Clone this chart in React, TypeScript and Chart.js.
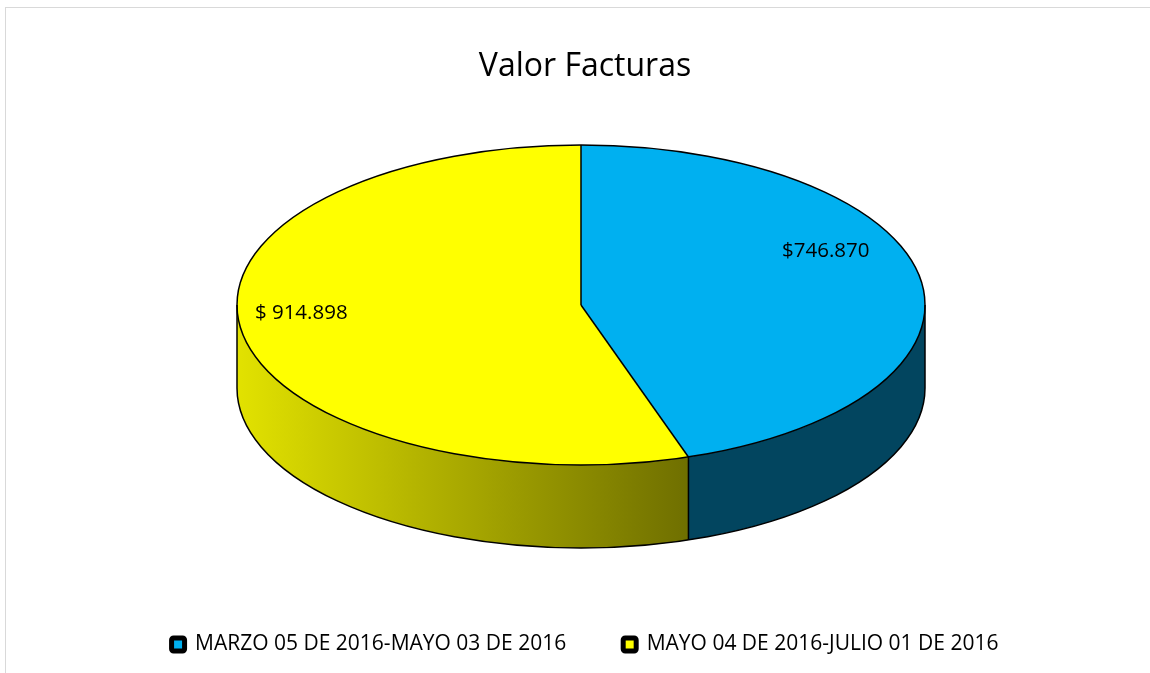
import { useEffect, useRef } from "react";
import { Chart, registerables } from "chart.js";

Chart.register(...registerables);

const chartTitle = "Valor Facturas";
const categories = ["MARZO 05 DE 2016-MAYO 03 DE 2016", "MAYO 04 DE 2016-JULIO 01 DE 2016"];
const values = [746870, 914898];
const valueLabels = ["$746.870", "$ 914.898"];
const topColors = ["#00B0F0", "#FFFF00"];
const sideColors = [
  ["#02455F", "#02455F"],
  ["#E2E200", "#6A6A00"],
];

const FONT = "'Open Sans', 'Noto Sans', sans-serif";

const pie3d = {
  id: "pie3d",
  beforeDatasetsDraw(chart: any, _args: any, opts: any) {
    const { cx, cy, rx, ry, depth } = opts;
    const ctx: CanvasRenderingContext2D = chart.ctx;
    const arcs: any[] = chart.getDatasetMeta(0).data;
    if (!arcs.length) return;
    arcs.forEach((arc, i) => {
      const a0 = Math.max(arc.startAngle, 0);
      const a1 = Math.min(arc.endAngle, Math.PI);
      if (a1 <= a0) return;
      ctx.save();
      ctx.beginPath();
      ctx.ellipse(cx, cy, rx, ry, 0, a0, a1, false);
      ctx.ellipse(cx, cy + depth, rx, ry, 0, a1, a0, true);
      ctx.closePath();
      const g = ctx.createLinearGradient(cx - rx, 0, cx + rx * 0.37, 0);
      g.addColorStop(0, sideColors[i][0]);
      g.addColorStop(1, sideColors[i][1]);
      ctx.fillStyle = g;
      ctx.fill();
      ctx.restore();
    });
    const a = arcs[0];
    ctx.save();
    ctx.translate(cx, cy);
    ctx.scale(rx / a.outerRadius, ry / a.outerRadius);
    ctx.translate(-a.x, -a.y);
  },
  afterDatasetsDraw(chart: any, _args: any, opts: any) {
    const ctx: CanvasRenderingContext2D = chart.ctx;
    ctx.restore();
    const { cx, cy, rx, ry, depth, labelOffsets } = opts;
    const arcs: any[] = chart.getDatasetMeta(0).data;
    if (!arcs.length) return;
    ctx.save();
    ctx.strokeStyle = "#000";
    ctx.lineWidth = 1.5;
    ctx.lineJoin = "round";
    // side outlines
    ctx.beginPath();
    ctx.ellipse(cx, cy + depth, rx, ry, 0, 0, Math.PI, false);
    ctx.stroke();
    const verticals = [0, Math.PI];
    arcs.forEach((arc) => {
      if (arc.startAngle > 0 && arc.startAngle < Math.PI) verticals.push(arc.startAngle);
    });
    verticals.forEach((t) => {
      const x = cx + rx * Math.cos(t);
      const y = cy + ry * Math.sin(t);
      ctx.beginPath();
      ctx.moveTo(x, y);
      ctx.lineTo(x, y + depth);
      ctx.stroke();
    });
    // top outline
    ctx.beginPath();
    ctx.ellipse(cx, cy, rx, ry, 0, 0, Math.PI * 2);
    ctx.stroke();
    arcs.forEach((arc) => {
      ctx.beginPath();
      ctx.moveTo(cx, cy);
      ctx.lineTo(cx + rx * Math.cos(arc.startAngle), cy + ry * Math.sin(arc.startAngle));
      ctx.stroke();
    });
    // value labels
    ctx.fillStyle = "#000";
    ctx.font = `20.5px ${FONT}`;
    ctx.textAlign = "center";
    ctx.textBaseline = "middle";
    arcs.forEach((arc, i) => {
      const mid = (arc.startAngle + arc.endAngle) / 2;
      const x = cx + rx * 0.8 * Math.cos(mid) + labelOffsets[i][0];
      const y = cy + ry * 0.8 * Math.sin(mid) + labelOffsets[i][1];
      ctx.fillText(valueLabels[i], x, y);
    });
    ctx.restore();
  },
};

export default function App() {
  const ref = useRef<HTMLCanvasElement | null>(null);
  useEffect(() => {
    if (!ref.current) return;
    const chart = new Chart(ref.current, {
      type: "pie",
      data: {
        labels: categories,
        datasets: [
          {
            data: values,
            backgroundColor: topColors,
            borderWidth: 0,
          },
        ],
      },
      plugins: [pie3d as any],
      options: {
        responsive: false,
        animation: false,
        events: [],
        layout: { padding: { left: 20, right: 0, top: 0, bottom: 8 } },
        plugins: {
          title: {
            display: true,
            text: chartTitle,
            color: "#000",
            font: { family: FONT, size: 32, weight: "normal" },
            padding: { top: 48, bottom: 20 },
          },
          legend: {
            position: "bottom",
            labels: {
              color: "#000",
              font: { family: FONT, size: 21 },
              boxWidth: 13,
              boxHeight: 13,
              padding: 57,
              useBorderRadius: true,
              borderRadius: 2,
              generateLabels: () =>
                categories.map((t, i) => ({
                  text: t,
                  fillStyle: topColors[i],
                  strokeStyle: "#000",
                  lineWidth: 5,
                  hidden: false,
                  index: i,
                  datasetIndex: 0,
                  borderRadius: 2,
                })),
            },
          },
          tooltip: { enabled: false },
          pie3d: {
            cx: 581,
            cy: 305,
            rx: 344,
            ry: 160,
            depth: 83,
            labelOffsets: [
              [-27, -34],
              [-8, -12],
            ],
          },
        } as any,
      },
    });
    return () => chart.destroy();
  }, []);
  return (
    <div>
      <div
        style={{
          position: "fixed",
          left: 5,
          top: 7,
          right: 0,
          bottom: 0,
          borderTop: "1px solid #d9d9d9",
          borderLeft: "1px solid #d9d9d9",
        }}
      />
      <canvas
        ref={ref}
        width={1150}
        height={673}
        style={{ position: "fixed", left: 0, top: 0, display: "block" }}
      />
    </div>
  );
}
